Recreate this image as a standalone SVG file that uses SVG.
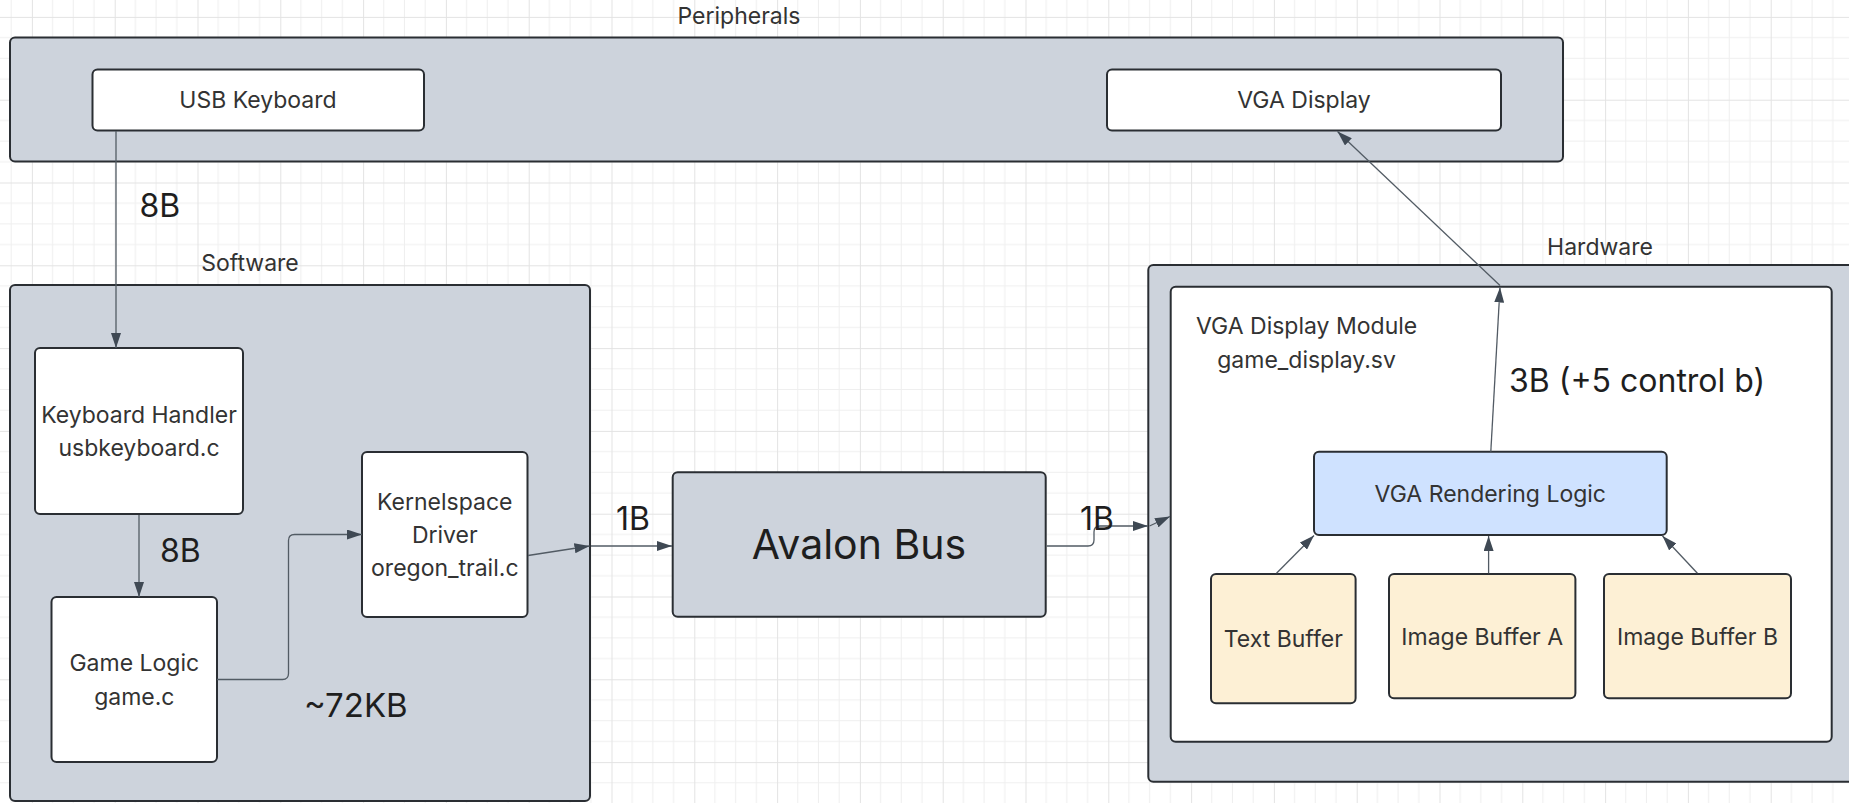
<svg xmlns="http://www.w3.org/2000/svg" width="1849" height="803" viewBox="0 0 1849 803">
<defs>
  <pattern id="grid" x="31.9" y="16.9" width="82.8" height="82.8" patternUnits="userSpaceOnUse">
    <rect width="82.8" height="82.8" fill="#ffffff"/>
    <path d="M20.7,0V82.8M41.4,0V82.8M62.1,0V82.8M0,20.7H82.8M0,41.4H82.8M0,62.1H82.8" stroke="#efefef" stroke-width="1" fill="none"/>
    <path d="M0.5,0V82.8M0,0.5H82.8" stroke="#e3e3e3" stroke-width="1" fill="none"/>
  </pattern>
  <marker id="arr" viewBox="0 0 15 10" refX="15" refY="5" markerWidth="15" markerHeight="10" markerUnits="userSpaceOnUse" orient="auto">
    <path d="M0,0 L15,5 L0,10 z" fill="#3f4954"/>
  </marker>
</defs>
<style>
  .ctr { fill: #cdd3dc; stroke: #2a2e33; stroke-width: 2; }
  .box { fill: #ffffff; stroke: #2a2e33; stroke-width: 2; }
  .blue { fill: #cfe2ff; stroke: #2a2e33; stroke-width: 2; }
  .buf { fill: #fdf0d5; stroke: #2a2e33; stroke-width: 2; }
  .t { font-family: Inter, "Liberation Sans", sans-serif; font-size: 23px; fill: #333333; text-anchor: middle; }
  .grp { font-family: Inter, "Liberation Sans", sans-serif; font-size: 23px; fill: #333333; text-anchor: middle; }
  .el { font-family: Inter, "Liberation Sans", sans-serif; font-size: 32px; fill: #1e1e1e; }
  .c { fill: none; stroke: #525b64; stroke-width: 1.3; marker-end: url(#arr); }
</style>
<rect x="0" y="0" width="1849" height="803" fill="url(#grid)"/>

<g id="peripherals">
  <rect class="ctr" x="10" y="37.5" width="1553" height="124" rx="5"/>
  <text class="grp" x="739" y="24">Peripherals</text>
</g>
<g id="usb-keyboard">
  <rect class="box" x="92.5" y="69.5" width="331.5" height="61" rx="5"/>
  <text class="t" x="258" y="108">USB Keyboard</text>
</g>
<g id="vga-display">
  <rect class="box" x="1107" y="69.5" width="394" height="61" rx="5"/>
  <text class="t" x="1304" y="108">VGA Display</text>
</g>

<g id="software">
  <rect class="ctr" x="10" y="285" width="580" height="516" rx="5"/>
  <text class="grp" x="250" y="270.5">Software</text>
</g>
<g id="keyboard-handler">
  <rect class="box" x="35" y="348" width="208" height="166" rx="5"/>
  <text class="t" x="139" y="422.5">Keyboard Handler</text>
  <text class="t" x="139" y="456">usbkeyboard.c</text>
</g>
<g id="game-logic">
  <rect class="box" x="51.5" y="597" width="165.5" height="165" rx="5"/>
  <text class="t" x="134.3" y="670.7">Game Logic</text>
  <text class="t" x="134.3" y="704.7">game.c</text>
</g>
<g id="kernel-driver">
  <rect class="box" x="362" y="452" width="165.5" height="165" rx="5"/>
  <text class="t" x="444.8" y="510">Kernelspace</text>
  <text class="t" x="444.8" y="543">Driver</text>
  <text class="t" x="444.8" y="576">oregon_trail.c</text>
</g>

<g id="avalon-bus">
  <rect class="ctr" x="672.7" y="472.3" width="373" height="144.4" rx="5"/>
  <text class="t" x="859" y="559" style="font-size:41px;fill:#1e1e1e">Avalon Bus</text>
</g>

<g id="hardware">
  <rect class="ctr" x="1148.3" y="265" width="720" height="516.7" rx="5"/>
  <text class="grp" x="1600" y="255">Hardware</text>
</g>
<g id="vga-display-module">
  <rect class="box" x="1170.7" y="286.7" width="661" height="455" rx="5"/>
  <text class="t" x="1306.6" y="334.3">VGA Display Module</text>
  <text class="t" x="1306.6" y="368">game_display.sv</text>
</g>
<g id="vga-rendering-logic">
  <rect class="blue" x="1314" y="451.7" width="352.7" height="83.3" rx="5"/>
  <text class="t" x="1490.3" y="501.7">VGA Rendering Logic</text>
</g>
<g id="text-buffer">
  <rect class="buf" x="1211" y="574" width="144.6" height="129.3" rx="5"/>
  <text class="t" x="1283.3" y="646.7">Text Buffer</text>
</g>
<g id="image-buffer-a">
  <rect class="buf" x="1389" y="574" width="186.4" height="124.3" rx="5"/>
  <text class="t" x="1482.2" y="645">Image Buffer A</text>
</g>
<g id="image-buffer-b">
  <rect class="buf" x="1604" y="574" width="187" height="124.3" rx="5"/>
  <text class="t" x="1697.5" y="645">Image Buffer B</text>
</g>

<g id="connectors">
  <path class="c" d="M116,131 V348"/>
  <path class="c" d="M139,515 V597"/>
  <path class="c" d="M217,679.5 H282.5 Q288.5,679.5 288.5,673.5 V540.5 Q288.5,534.5 294.5,534.5 H362"/>
  <path class="c" d="M528,555.5 L589.5,546"/>
  <path class="c" d="M591,546 H672"/>
  <path class="c" d="M1046.6,546 H1088 Q1094,546 1094,540 V532 Q1094,526 1100,526 H1148"/>
  <path class="c" d="M1149.5,526 L1170,516.5"/>
  <path class="c" d="M1490.8,451.7 L1500,287.5"/>
  <path class="c" d="M1500,285.5 L1337.5,131.5"/>
  <path class="c" d="M1276.5,573.3 L1314,535.5"/>
  <path class="c" d="M1488.6,573.3 V536"/>
  <path class="c" d="M1697.4,573.3 L1662.5,536"/>
  <text class="el" x="139.5" y="217">8B</text>
  <text class="el" x="160" y="562">8B</text>
  <text class="el" x="304" y="717" style="font-size:33px">~72KB</text>
  <text class="el" x="616" y="530">1B</text>
  <text class="el" x="1080" y="530">1B</text>
  <text class="el" x="1509" y="391.7">3B (+5 control b)</text>
</g>
</svg>
